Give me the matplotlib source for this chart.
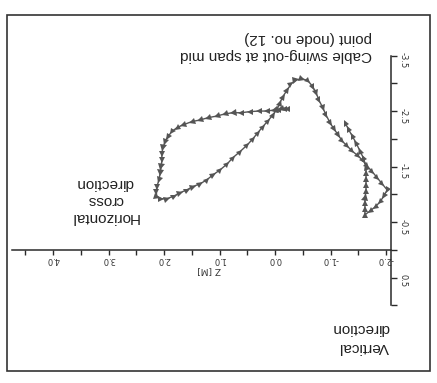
import numpy as np
import matplotlib
matplotlib.use("Agg")
import matplotlib.pyplot as plt
from matplotlib.markers import MarkerStyle
from matplotlib.transforms import Affine2D
from matplotlib.patches import Rectangle
from matplotlib.ticker import FixedLocator, FixedFormatter

# ---------------- data (cable swing-out trajectory, node no. 12) ----------------
z_m = [-0.22, -0.16, -0.11, -0.05, 0.02, 0.14, 0.29, 0.45, 0.61, 0.76,
       0.90, 1.05, 1.21, 1.35, 1.50, 1.66, 1.77, 1.86, 1.93, 1.98,
       2.02, 2.04, 2.04, 2.05, 2.07, 2.09, 2.13, 2.14, 2.13, 2.05,
       1.95, 1.82, 1.71, 1.59, 1.48, 1.35, 1.23, 1.12, 0.99, 0.86,
       0.76, 0.63, 0.50, 0.40, 0.31, 0.22, 0.13, 0.04, -0.04, -0.09,
       -0.14, -0.22, -0.29, -0.38, -0.49, -0.59, -0.68, -0.74, -0.79, -0.86,
       -0.92, -0.99, -1.06, -1.14, -1.21, -1.30, -1.39, -1.50, -1.59, -1.66,
       -1.75, -1.84, -1.93, -2.02, -1.96, -1.89, -1.80, -1.71, -1.62, -1.62,
       -1.62, -1.62, -1.64, -1.64, -1.64, -1.64, -1.64, -1.59, -1.53, -1.46,
       -1.39, -1.32, -1.26]
y_m = [-2.54, -2.54, -2.54, -2.52, -2.52, -2.50, -2.50, -2.49, -2.47, -2.47,
       -2.45, -2.41, -2.38, -2.34, -2.31, -2.25, -2.20, -2.13, -2.04, -1.95,
       -1.84, -1.73, -1.62, -1.50, -1.39, -1.26, -1.14, -1.05, -0.95, -0.92,
       -0.92, -0.97, -1.03, -1.08, -1.14, -1.19, -1.26, -1.35, -1.44, -1.55,
       -1.66, -1.77, -1.89, -2.00, -2.11, -2.22, -2.32, -2.43, -2.54, -2.65,
       -2.76, -2.88, -2.99, -3.06, -3.08, -3.05, -2.94, -2.83, -2.70, -2.56,
       -2.43, -2.29, -2.18, -2.07, -1.96, -1.87, -1.78, -1.69, -1.60, -1.51,
       -1.41, -1.30, -1.19, -1.08, -0.97, -0.86, -0.77, -0.70, -0.63, -0.74,
       -0.85, -0.95, -1.06, -1.17, -1.28, -1.39, -1.50, -1.66, -1.78, -1.93,
       -2.05, -2.18, -2.29]

z_ticks = [-2.0, -1.0, 0.0, 1.0, 2.0, 3.0, 4.0]
z_tick_labels = ["-2.0", "-1.0", "0.0", "1.0", "2.0", "3.0", "4.0"]
z_minor_ticks = [-1.5, -0.5, 0.5, 1.5, 2.5, 3.5, 4.5]
y_ticks = [-3.5, -2.5, -1.5, -0.5, 0.5]
y_tick_labels = ["-3.5", "-2.5", "-1.5", "-0.5", "0.5"]
y_minor_ticks = [-3.0, -2.0, -1.0, 0.0, 1.0]

x_label = "Z [M]"
title_lines = ["Cable swing-out at span mid", "point (node no. 12)"]
horiz_lines = ["Horizontal", "cross", "direction"]
vert_lines = ["Vertical", "direction"]

# ---------------- figure ----------------
W, H = 437, 383
fig = plt.figure(figsize=(W / 100, H / 100), dpi=100)
fig.patch.set_facecolor("white")


def px_rect(x0, y0, x1, y1):
    return [x0 / W, 1 - y1 / H, (x1 - x0) / W, (y1 - y0) / H]


def fpos(x, y):
    return x / W, 1 - y / H


ax = fig.add_axes(px_rect(12, 45, 391, 312))
ax.set_xlim(4.74, -2.09)
ax.set_ylim(1.12, -3.69)
ax.patch.set_alpha(0)

axis_col = "#2a2a2a"
for s in ("top", "left"):
    ax.spines[s].set_visible(False)
ax.spines["bottom"].set_position(("data", 0.0))
ax.spines["right"].set_bounds(-3.5, 1.0)
for s in ("bottom", "right"):
    ax.spines[s].set_color(axis_col)
    ax.spines[s].set_linewidth(1.1)

ax.yaxis.tick_right()
ax.xaxis.set_major_locator(FixedLocator(z_ticks))
ax.xaxis.set_major_formatter(FixedFormatter(z_tick_labels))
ax.xaxis.set_minor_locator(FixedLocator(z_minor_ticks))
ax.yaxis.set_major_locator(FixedLocator(y_ticks))
ax.yaxis.set_major_formatter(FixedFormatter(y_tick_labels))
ax.yaxis.set_minor_locator(FixedLocator(y_minor_ticks))

ax.tick_params(axis="x", which="both", direction="out", length=3.5, width=1,
               color=axis_col, labelsize=6, labelcolor="#333333", pad=0.5,
               labelrotation=180)
ax.tick_params(axis="y", which="both", direction="out", length=4, width=1,
               color=axis_col, labelsize=6, labelcolor="#333333", pad=1.5,
               labelrotation=-90, right=True, left=False)

# trajectory line
line_col = "#555555"
ax.plot(z_m, y_m, color=line_col, lw=1.0, zorder=2)

# arrow-head markers oriented along the path
disp = ax.transData.transform(np.column_stack([z_m, y_m]))
n = len(z_m)
for i in range(n):
    if i < n - 1:
        d = disp[i + 1] - disp[i]
    else:
        d = disp[i] - disp[i - 1]
    ang = np.degrees(np.arctan2(d[1], d[0]))
    ms = MarkerStyle(">", transform=Affine2D().rotate_deg(ang))
    ax.plot([z_m[i]], [y_m[i]], linestyle="none", marker=ms, markersize=4.5,
            color=line_col, markeredgewidth=0, zorder=3)

# axis label (upside down, like the scan)
fig.text(*fpos(209, 270), x_label, rotation=180, ha="center", va="center",
         fontsize=6.5, color="#333333")

txt_kw = dict(rotation=180, fontsize=11, color="#222222",
              family=["Liberation Sans", "DejaVu Sans"])
fig.text(*fpos(372, 55), title_lines[0], ha="right", va="center", **txt_kw)
fig.text(*fpos(372, 38), title_lines[1], ha="right", va="center", **txt_kw)

for yy, t in zip([217, 200, 183], horiz_lines):
    fig.text(*fpos(105, yy), t, ha="center", va="center", **txt_kw)

for yy, t in zip([347, 328], vert_lines):
    fig.text(*fpos(389, yy), t, ha="right", va="center", **txt_kw)

# scanned page frame
fig.add_artist(Rectangle(fpos(7, 371), 423 / W, (371 - 15) / H,
                         transform=fig.transFigure, fill=False,
                         lw=1.2, ec="#333333"))

fig.savefig("out.png", dpi=100, facecolor="white")
